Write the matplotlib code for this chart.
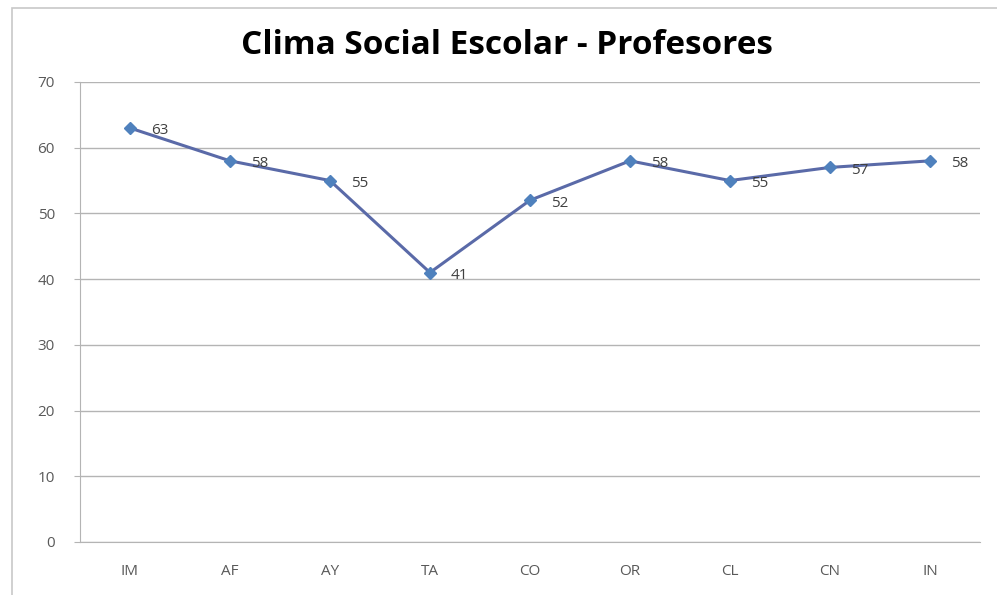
import matplotlib.pyplot as plt
from matplotlib.patches import Rectangle

categorias = ["IM", "AF", "AY", "TA", "CO", "OR", "CL", "CN", "IN"]
valores = [63, 58, 55, 41, 52, 58, 55, 57, 58]
y_ticks = [0, 10, 20, 30, 40, 50, 60, 70]

plt.rcParams['font.family'] = ['Open Sans', 'DejaVu Sans']

fig = plt.figure(figsize=(9.97, 5.95), dpi=100)
ax = fig.add_axes([0.0802, 0.0891, 0.9027, 0.7731])

# marco del grafico
fig.patches.append(Rectangle((12 / 997, -0.05), 1.0, 1 - 8 / 595 + 0.05,
                             transform=fig.transFigure, fill=False,
                             edgecolor="#c8c8c8", linewidth=1.2))

x = list(range(len(categorias)))
ax.plot(x, valores, color="#5a6aa8", linewidth=2.2, marker="D", markersize=6,
        markerfacecolor="#4f81bd", markeredgecolor="#4f81bd", zorder=3)
for xi, v in zip(x, valores):
    ax.annotate(str(v), (xi, v), xytext=(15, -2), textcoords="offset points",
                fontsize=11, color="#404040", va="center", ha="left")

ax.set_xlim(-0.5, len(categorias) - 0.5)
ax.set_ylim(0, 70)
ax.set_yticks(y_ticks)
ax.set_xticks(x)
ax.set_xticklabels(categorias)
ax.yaxis.grid(True, color="#b4b4b4", linewidth=1)
ax.set_axisbelow(True)
for s in ["top", "right"]:
    ax.spines[s].set_visible(False)
for s in ["left", "bottom"]:
    ax.spines[s].set_color("#b4b4b4")
ax.tick_params(axis="y", length=4, color="#b4b4b4", labelcolor="#595959", labelsize=11, pad=14)
ax.tick_params(axis="x", length=0, labelcolor="#595959", labelsize=11, pad=16)

fig.text(0.5085, 1 - 45 / 595, "Clima Social Escolar - Profesores", ha="center", va="center",
         fontsize=24, fontweight="bold", color="#000000")

fig.savefig("out.png", dpi=100)
